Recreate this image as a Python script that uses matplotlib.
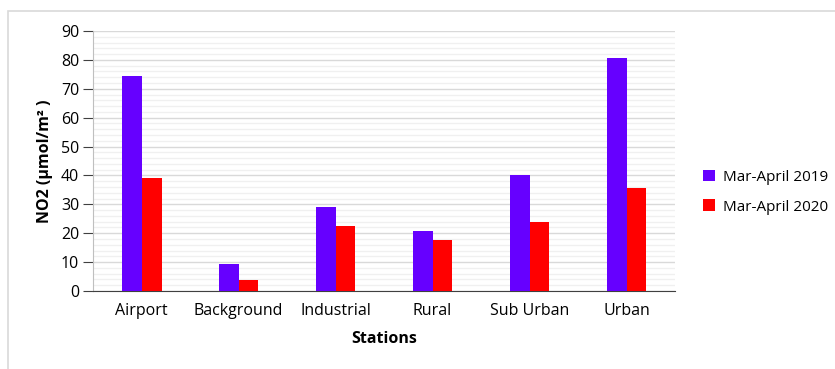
import numpy as np
import matplotlib.pyplot as plt
from matplotlib.patches import Rectangle

stations = ["Airport", "Background", "Industrial", "Rural", "Sub Urban", "Urban"]
no2_2019 = [74.3, 9.3, 29.2, 20.6, 40.1, 80.5]
no2_2020 = [39.1, 3.8, 22.5, 17.6, 23.9, 35.5]
series_labels = ["Mar-April 2019", "Mar-April 2020"]

plt.rcParams['font.family'] = ['Open Sans', 'DejaVu Sans']

fig = plt.figure(figsize=(8.35, 3.69), dpi=100)
ax = fig.add_axes([0.1114, 0.2114, 0.697, 0.7046])

# light frame around the chart area
fig.patches.append(Rectangle((8 / 835, -0.1), 1.2, 1 - 11 / 369 + 0.1,
                             transform=fig.transFigure, fill=False,
                             edgecolor="#d9d9d9", linewidth=1.2))

x = np.arange(len(stations))
w = 0.206
ax.bar(x - w / 2, no2_2019, w, color="#6600ff", label=series_labels[0], zorder=3)
ax.bar(x + w / 2, no2_2020, w, color="#ff0000", label=series_labels[1], zorder=3)

ax.set_xlim(-0.5, len(stations) - 0.5)
ax.set_ylim(0, 90)
ax.set_yticks(np.arange(0, 91, 10))
ax.set_yticks(np.arange(0, 91, 2), minor=True)
ax.grid(axis="y", which="major", color="#d9d9d9", linewidth=1, zorder=0)
ax.grid(axis="y", which="minor", color="#f0f0f0", linewidth=1, zorder=0)

ax.set_xticks(x)
ax.set_xticklabels(stations, fontsize=11.5)
ax.tick_params(axis="x", length=0, pad=9)
ax.tick_params(axis="y", which="major", length=7, color="#404040", labelsize=11.5, pad=3)
ax.tick_params(axis="y", which="minor", length=0)

for s in ["top", "right"]:
    ax.spines[s].set_visible(False)
ax.spines["left"].set_color("#bfbfbf")
ax.spines["bottom"].set_color("#404040")

ax.set_xlabel("Stations", fontsize=11.5, fontweight="bold", labelpad=8)
ax.set_ylabel("NO2 (µmol/m² )", fontsize=11.5, fontweight="bold", labelpad=6)

ax.legend(loc="center left", bbox_to_anchor=(1.024, 0.38), frameon=False,
          fontsize=11, handlelength=0.8, handleheight=0.8, handletextpad=0.5,
          labelspacing=0.95)

fig.savefig("out.png", dpi=100)
